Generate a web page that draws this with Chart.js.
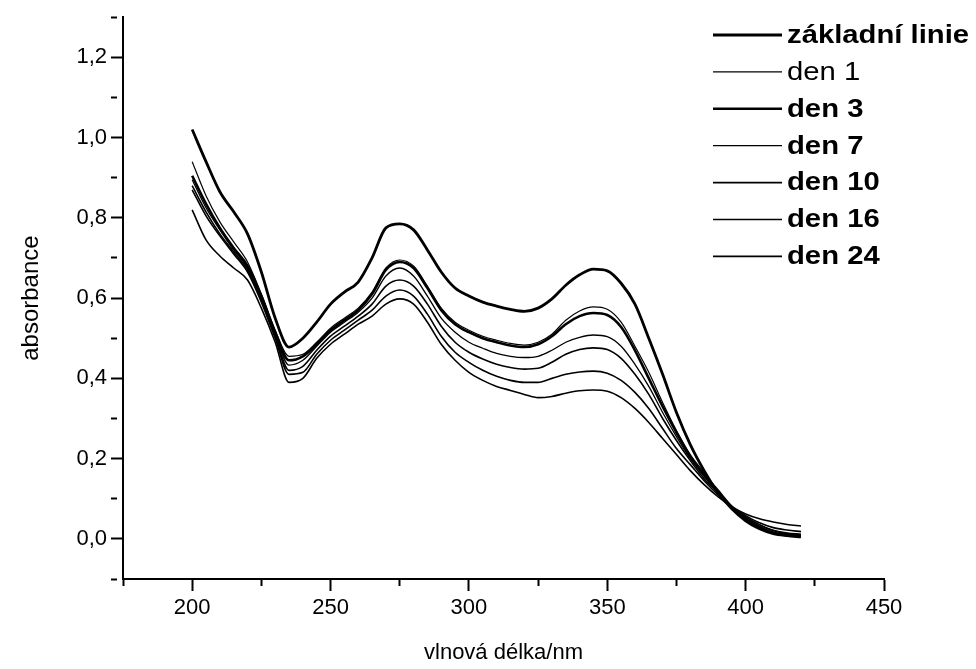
<!DOCTYPE html>
<html>
<head>
<meta charset="utf-8">
<script src="https://cdn.jsdelivr.net/npm/chart.js@4.4.0/dist/chart.umd.min.js"></script>
<style>
  html, body { margin: 0; padding: 0; background: #fff; }
</style>
</head>
<body>
<canvas id="spectra" width="976" height="669"></canvas>
<script>
// Absorpční spektra – vlnová délka 200–420 nm, krok 5 nm
const wavelengths = [200, 205, 210, 215, 220, 225, 230, 235, 240, 245, 250, 255, 260, 265, 270,
  275, 280, 285, 290, 295, 300, 305, 310, 315, 320, 325, 330, 335, 340, 345,
  350, 355, 360, 365, 370, 375, 380, 385, 390, 395, 400, 405, 410, 415, 420];

const zakladniLinie = [1.02, 0.94, 0.865, 0.815, 0.76, 0.665, 0.55, 0.478, 0.50, 0.54, 0.585, 0.615, 0.64, 0.70, 0.775,
  0.785, 0.77, 0.72, 0.665, 0.625, 0.605, 0.59, 0.58, 0.572, 0.567, 0.575, 0.598, 0.632, 0.658, 0.672,
  0.668, 0.637, 0.585, 0.50, 0.41, 0.315, 0.235, 0.17, 0.115, 0.075, 0.045, 0.025, 0.013, 0.008, 0.005];
const den1 = [0.94, 0.855, 0.79, 0.74, 0.69, 0.61, 0.52, 0.455, 0.46, 0.49, 0.525, 0.55, 0.575, 0.615, 0.675,
  0.695, 0.68, 0.63, 0.575, 0.54, 0.52, 0.505, 0.495, 0.487, 0.483, 0.49, 0.51, 0.545, 0.568, 0.578,
  0.572, 0.54, 0.48, 0.415, 0.34, 0.27, 0.21, 0.165, 0.12, 0.08, 0.055, 0.035, 0.022, 0.015, 0.012];
const den3 = [0.905, 0.835, 0.775, 0.725, 0.68, 0.605, 0.515, 0.445, 0.455, 0.485, 0.52, 0.545, 0.57, 0.61, 0.67,
  0.69, 0.675, 0.625, 0.57, 0.535, 0.515, 0.50, 0.49, 0.482, 0.478, 0.485, 0.505, 0.535, 0.555, 0.563,
  0.558, 0.528, 0.47, 0.40, 0.33, 0.265, 0.205, 0.16, 0.12, 0.08, 0.05, 0.03, 0.015, 0.01, 0.007];
const den7 = [0.895, 0.825, 0.77, 0.72, 0.675, 0.60, 0.51, 0.433, 0.445, 0.48, 0.515, 0.54, 0.565, 0.60, 0.655,
  0.675, 0.655, 0.605, 0.55, 0.515, 0.49, 0.475, 0.462, 0.455, 0.452, 0.455, 0.47, 0.49, 0.502, 0.508,
  0.504, 0.48, 0.435, 0.38, 0.315, 0.255, 0.20, 0.155, 0.115, 0.08, 0.05, 0.03, 0.016, 0.01, 0.008];
const den10 = [0.88, 0.815, 0.76, 0.715, 0.67, 0.595, 0.505, 0.42, 0.43, 0.47, 0.505, 0.53, 0.555, 0.585, 0.63,
  0.645, 0.63, 0.585, 0.53, 0.49, 0.465, 0.448, 0.435, 0.427, 0.423, 0.425, 0.44, 0.46, 0.472, 0.476,
  0.472, 0.45, 0.41, 0.36, 0.30, 0.245, 0.195, 0.15, 0.115, 0.08, 0.055, 0.035, 0.02, 0.013, 0.01];
const den16 = [0.87, 0.805, 0.755, 0.71, 0.665, 0.59, 0.50, 0.41, 0.415, 0.46, 0.495, 0.52, 0.545, 0.57, 0.605,
  0.62, 0.605, 0.56, 0.505, 0.465, 0.44, 0.42, 0.405, 0.395, 0.39, 0.39, 0.40, 0.41, 0.416, 0.418,
  0.413, 0.395, 0.365, 0.325, 0.275, 0.225, 0.185, 0.145, 0.11, 0.08, 0.058, 0.04, 0.028, 0.022, 0.018];
const den24 = [0.82, 0.745, 0.705, 0.675, 0.645, 0.575, 0.49, 0.39, 0.40, 0.45, 0.485, 0.51, 0.535, 0.555, 0.585,
  0.598, 0.585, 0.54, 0.485, 0.445, 0.415, 0.395, 0.38, 0.37, 0.36, 0.352, 0.355, 0.363, 0.369, 0.371,
  0.368, 0.352, 0.325, 0.29, 0.25, 0.21, 0.17, 0.135, 0.105, 0.08, 0.062, 0.05, 0.042, 0.036, 0.032];

const seriesLabels = ["základní linie", "den 1", "den 3", "den 7", "den 10", "den 16", "den 24"];
const seriesValues = [zakladniLinie, den1, den3, den7, den10, den16, den24];
const seriesWidth = [2.8, 1.2, 2.6, 1.3, 1.6, 1.6, 1.6];
const seriesBold = [true, false, true, true, true, true, true];

const FONT = '"Liberation Sans", Arial, sans-serif';

// Legende rechts oben, ohne Rahmen; Schrift im Original etwas breiter
const sideLegend = {
  id: "sideLegend",
  afterDraw(chart) {
    const ctx = chart.ctx;
    ctx.save();
    chart.data.datasets.forEach((ds, i) => {
      const y = 35 + i * 36.9;
      ctx.beginPath();
      ctx.moveTo(713, y);
      ctx.lineTo(782, y);
      ctx.lineWidth = ds.borderWidth;
      ctx.strokeStyle = "#000";
      ctx.stroke();
      ctx.save();
      ctx.translate(787, y + 1);
      ctx.scale(1.17, 1);
      ctx.font = (ds.legendBold ? "bold " : "") + "25px " + FONT;
      ctx.fillStyle = "#000";
      ctx.textBaseline = "middle";
      ctx.fillText(ds.label, 0, 0);
      ctx.restore();
    });
    ctx.restore();
  }
};

const isMinorX = (v) => Math.round(v) % 50 !== 0;
const isMinorY = (v) => Math.round(v * 10) % 2 !== 0;

const ctx = document.getElementById("spectra").getContext("2d");
new Chart(ctx, {
  type: "line",
  data: {
    datasets: seriesLabels.map((label, i) => ({
      label,
      data: wavelengths.map((w, j) => ({ x: w, y: seriesValues[i][j] })),
      borderColor: "#000",
      borderWidth: seriesWidth[i],
      legendBold: seriesBold[i],
      pointRadius: 0,
      cubicInterpolationMode: "monotone",
      fill: false
    }))
  },
  options: {
    responsive: false,
    animation: false,
    layout: { padding: { top: 15, right: 92, left: 0, bottom: 0 } },
    plugins: {
      legend: { display: false },
      tooltip: { enabled: false }
    },
    scales: {
      x: {
        type: "linear",
        min: 175,
        max: 450,
        afterFit: (s) => { s.height = 90; },
        ticks: {
          stepSize: 25,
          autoSkip: false,
          maxRotation: 0,
          padding: 4,
          color: "#000",
          font: { size: 22, family: FONT },
          callback: (v) => (isMinorX(v) ? "" : String(Math.round(v)))
        },
        grid: {
          drawOnChartArea: false,
          drawTicks: true,
          tickLength: 12,
          tickWidth: 2,
          tickColor: "#000",
          tickBorderDash: (c) => (c.tick && isMinorX(c.tick.value) ? [6, 40] : [])
        },
        border: { display: true, color: "#000", width: 2 },
        title: {
          display: true,
          text: "vlnová délka/nm",
          color: "#000",
          font: { size: 22, family: FONT },
          padding: { top: 0, bottom: 3 }
        }
      },
      y: {
        min: -0.1,
        max: 1.3,
        afterFit: (s) => { s.width = 123; },
        ticks: {
          stepSize: 0.1,
          autoSkip: false,
          padding: 4,
          color: "#000",
          font: { size: 22, family: FONT },
          callback: (v) => (isMinorY(v) ? "" : (Math.round(v * 10) / 10).toFixed(1).replace(".", ","))
        },
        grid: {
          drawOnChartArea: false,
          drawTicks: true,
          tickLength: 12,
          tickWidth: 2,
          tickColor: "#000",
          tickBorderDash: (c) => (c.tick && isMinorY(c.tick.value) ? [6, 40] : [])
        },
        border: { display: true, color: "#000", width: 2 },
        title: {
          display: true,
          text: "absorbance",
          color: "#000",
          font: { size: 24, family: FONT },
          padding: { top: 17, bottom: 0 }
        }
      }
    }
  },
  plugins: [sideLegend]
});
</script>
</body>
</html>
